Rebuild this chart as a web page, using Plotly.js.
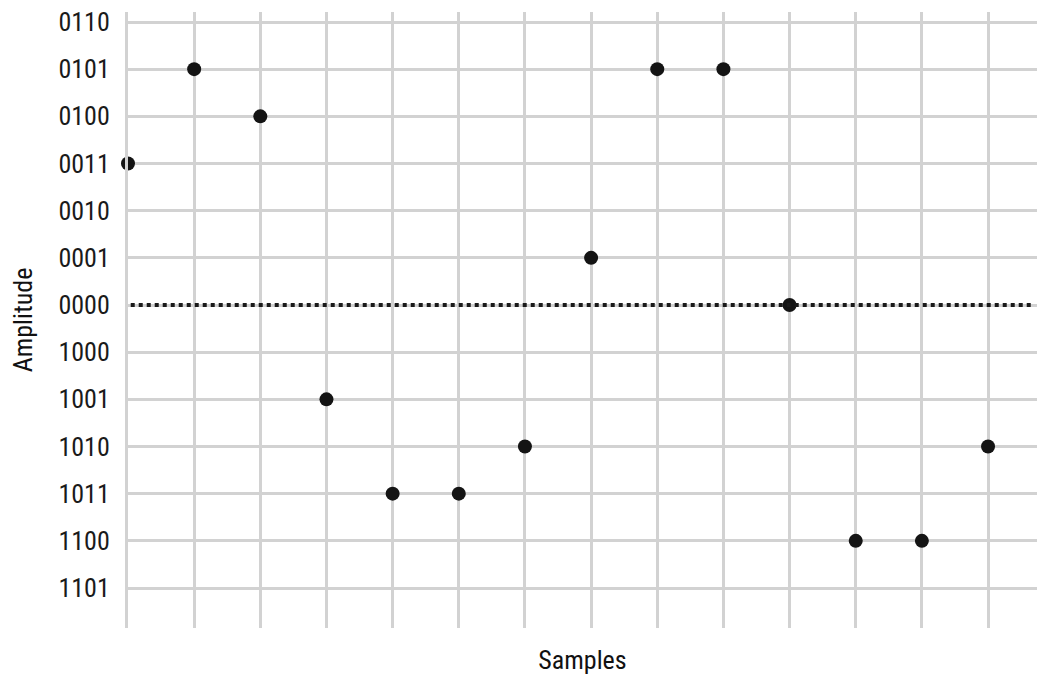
<!DOCTYPE html>
<html>
<head>
<meta charset="utf-8">
<script src="https://cdn.plot.ly/plotly-3.0.1.min.js"></script>
<style>html,body{margin:0;padding:0;background:#fff;}#chart{width:1037px;height:680px;}</style>
</head>
<body>
<div id="chart"></div>
<script>
// Amplitude levels, bottom to top
const levels = ['1101','1100','1011','1010','1001','1000','0000','0001','0010','0011','0100','0101','0110'];
const samples = [0,1,2,3,4,5,6,7,8,9,10,11,12,13];
const amplitude = ['0011','0101','0100','1001','1011','1011','1010','0001','0101','0101','0000','1100','1100','1010'];
const zeroLevel = '0000';
const zeroIndex = levels.indexOf(zeroLevel);

const FONT = '"Roboto Condensed", "Liberation Sans Narrow", sans-serif';

const trace = {
  x: samples,
  y: amplitude,
  type: 'scatter',
  mode: 'markers',
  marker: {size: 14, color: '#141414'},
  cliponaxis: false,
  hoverinfo: 'skip'
};

const layout = {
  width: 1037, height: 680,
  margin: {l: 128, r: 0, t: 12, b: 52},
  paper_bgcolor: '#fff', plot_bgcolor: '#fff',
  showlegend: false,
  xaxis: {
    range: [0, 13.74],
    tick0: 0, dtick: 1,
    showgrid: true, gridcolor: '#d2d2d2', gridwidth: 3,
    zeroline: false, showticklabels: false, ticks: '',
    showline: false,
    title: {text: 'Samples', font: {family: FONT, size: 26, color: '#111'}, standoff: 22}
  },
  yaxis: {
    type: 'category',
    categoryorder: 'array', categoryarray: levels,
    range: [-0.848, 12.212],
    showgrid: true, gridcolor: '#d2d2d2', gridwidth: 3,
    zeroline: false, ticks: '',
    showline: true, linecolor: '#d2d2d2', linewidth: 3,
    ticklabelstandoff: 10,
    tickfont: {family: FONT, size: 26, color: '#1a1a1a'},
    title: {text: 'Amplitude', font: {family: FONT, size: 26, color: '#111'}, standoff: 19}
  },
  shapes: [
    {type: 'line', xref: 'paper', x0: 0.003, x1: 1, yref: 'y', y0: zeroIndex, y1: zeroIndex,
     line: {color: '#ffffff', width: 4}, layer: 'below'},
    {type: 'line', xref: 'paper', x0: 0.003, x1: 0.997, yref: 'y', y0: zeroIndex, y1: zeroIndex,
     line: {color: '#1a1a1a', width: 4, dash: 'dot'}, layer: 'above'}
  ]
};

Plotly.newPlot('chart', [trace], layout, {displayModeBar: false, staticPlot: true});
</script>
</body>
</html>
